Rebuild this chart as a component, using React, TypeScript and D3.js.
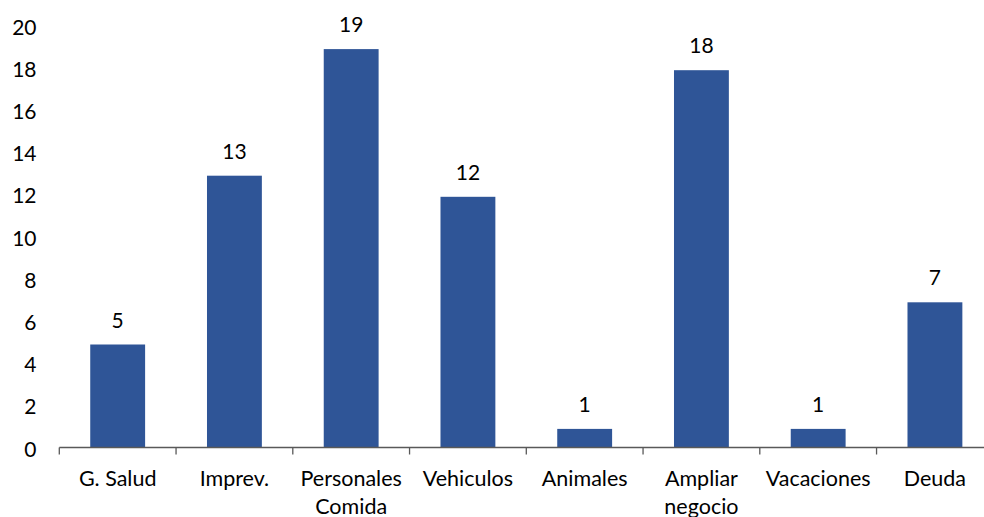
import React, { useEffect, useRef } from 'react';
import * as d3 from 'd3';

const categories = ['G. Salud', 'Imprev.', 'Personales Comida', 'Vehiculos', 'Animales', 'Ampliar negocio', 'Vacaciones', 'Deuda'];
const categoryLines = [['G. Salud'], ['Imprev.'], ['Personales', 'Comida'], ['Vehiculos'], ['Animales'], ['Ampliar', 'negocio'], ['Vacaciones'], ['Deuda']];
const values = [5, 13, 19, 12, 1, 18, 1, 7];
const yTicks = [0, 2, 4, 6, 8, 10, 12, 14, 16, 18, 20];

const WIDTH = 984;
const HEIGHT = 517;
const FONT = 'Lato, "Open Sans", sans-serif';

const App: React.FC = () => {
    const svgRef = useRef<SVGSVGElement>(null);

    useEffect(() => {
        document.body.style.margin = '0';
        if (!svgRef.current) return;
        const svg = d3.select(svgRef.current);
        svg.selectAll('*').remove();

        const x = d3.scaleBand().domain(categories).range([59.3, 993.3]).paddingInner(0.53).paddingOuter(0.265);
        const y = d3.scaleLinear().domain([0, 20]).range([450, 28]);
        const axisY = 447.5;

        // bars
        svg.append('g')
            .selectAll('rect')
            .data(values)
            .enter()
            .append('rect')
            .attr('x', (_d, i) => x(categories[i]) as number)
            .attr('y', (d) => y(d))
            .attr('width', x.bandwidth())
            .attr('height', (d) => axisY - y(d))
            .attr('fill', '#2F5597');

        // value labels
        svg.append('g')
            .selectAll('text')
            .data(values)
            .enter()
            .append('text')
            .attr('x', (_d, i) => (x(categories[i]) as number) + x.bandwidth() / 2)
            .attr('y', (d) => y(d) - 17)
            .attr('text-anchor', 'middle')
            .style('font-family', FONT)
            .style('font-size', '21px')
            .style('fill', '#000')
            .text((d) => String(d));

        // y tick labels (no axis line)
        svg.append('g')
            .selectAll('text')
            .data(yTicks)
            .enter()
            .append('text')
            .attr('x', 36.5)
            .attr('y', (d) => y(d) - 1)
            .attr('dy', '0.36em')
            .attr('text-anchor', 'end')
            .style('font-family', FONT)
            .style('font-size', '21px')
            .style('fill', '#000')
            .text((d) => String(d));

        // x axis line and ticks at band boundaries
        const step = x.step();
        const start = 59.3;
        const bounds = d3.range(categories.length + 1).map((i) => start + i * step);
        const xAxis = svg.append('g');
        xAxis.append('line')
            .attr('x1', start)
            .attr('x2', start + categories.length * step)
            .attr('y1', axisY)
            .attr('y2', axisY)
            .style('stroke', '#595959')
            .style('stroke-width', 1.3);
        xAxis.selectAll('line.tick')
            .data(bounds)
            .enter()
            .append('line')
            .attr('class', 'tick')
            .attr('x1', (d) => d)
            .attr('x2', (d) => d)
            .attr('y1', axisY)
            .attr('y2', axisY + 7)
            .style('stroke', '#595959')
            .style('stroke-width', 1.3);

        // category labels
        const labels = svg.append('g')
            .selectAll('text')
            .data(categoryLines)
            .enter()
            .append('text')
            .attr('text-anchor', 'middle')
            .style('font-family', FONT)
            .style('font-size', '21.5px')
            .style('fill', '#000');
        labels.each(function (lines, i) {
            const cx = (x(categories[i]) as number) + x.bandwidth() / 2;
            d3.select(this)
                .selectAll('tspan')
                .data(lines)
                .enter()
                .append('tspan')
                .attr('x', cx)
                .attr('y', (_l, j) => 486 + j * 28)
                .text((l) => l);
        });
    }, []);

    return <svg ref={svgRef} width={WIDTH} height={HEIGHT} style={{ display: 'block' }}></svg>;
};

export default App;
